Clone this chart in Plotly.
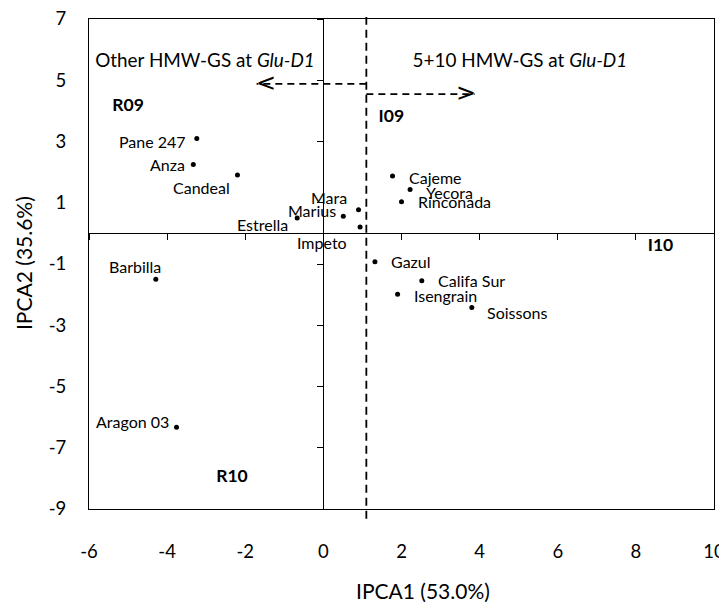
import plotly.graph_objects as go

# ---- data ----
genotypes = ["Pane 247", "Anza", "Candeal", "Estrella", "Marius", "Mara", "Impeto",
             "Cajeme", "Yecora", "Rinconada", "Gazul", "Califa Sur", "Isengrain",
             "Soissons", "Barbilla", "Aragon 03"]
ipca1 = [-3.24, -3.33, -2.20, -0.67, 0.51, 0.90, 0.94,
         1.77, 2.22, 2.00, 1.32, 2.52, 1.90,
         3.80, -4.29, -3.76]
ipca2 = [3.10, 2.25, 1.91, 0.50, 0.56, 0.77, 0.21,
         1.87, 1.43, 1.03, -0.93, -1.55, -1.99,
         -2.42, -1.50, -6.33]

environments = ["R09", "I09", "I10", "R10"]
env_x = [-5.0, 1.74, 8.63, -2.34]
env_y = [4.13, 3.77, -0.44, -7.96]

x_ticks = [-6, -4, -2, 0, 2, 4, 6, 8, 10]
x_tick_labels = ["-6", "-4", "-2", "0", "2", "4", "6", "8", "10"]
y_ticks = [7, 5, 3, 1, -1, -3, -5, -7, -9]
y_tick_labels = ["7", "5", "3", "1", "-1", "-3", "-5", "-7", "-9"]
x_range = [-6, 10]
y_range = [-9, 7]

split_x = 1.10                      # Glu-D1 split line
arrow_y = [4.88, 4.55]
arrow_tip = [-1.71, 3.88]
group_labels = ["Other HMW-GS at <i>Glu-D1</i>", "5+10 HMW-GS at <i>Glu-D1</i>"]
group_x = [-3.03, 5.03]
group_y = [5.6, 5.6]

# ---- label styling (anchor side and pixel offsets from each point) ----
label_anchor = ["right", "right", "right", "right", "right", "right", "right",
                "left", "left", "left", "left", "left", "left", "left",
                "right", "right"]
label_dx = [-9, -6, -5, -7, -5, -10, -11, 14, 14, 14, 14, 14, 14, 13, 7, -6]
label_dy = [-3, 0, -13, -6, 6, 12, -16, -1, -3, 0, 0, 0, -1, -5, 13, 6]

FONT = "Lato, Carlito, Calibri, sans-serif"
BLACK = "#000000"

fig = go.Figure()

# genotype points
fig.add_trace(go.Scatter(
    x=ipca1, y=ipca2, mode="markers", text=genotypes,
    marker=dict(size=5, color=BLACK),
    cliponaxis=False, showlegend=False, hoverinfo="text"))

for name, xv, yv, anc, dx, dy in zip(genotypes, ipca1, ipca2, label_anchor, label_dx, label_dy):
    fig.add_annotation(x=xv, y=yv, text=name, showarrow=False, xanchor=anc,
                       yanchor="middle", xshift=dx, yshift=dy,
                       font=dict(family=FONT, size=16, color=BLACK))

# environments (bold labels)
fig.add_trace(go.Scatter(
    x=env_x, y=env_y, mode="text", text=[f"<b>{e}</b>" for e in environments],
    textfont=dict(family=FONT, size=17.5, color=BLACK),
    showlegend=False, hoverinfo="skip"))

# group labels
fig.add_trace(go.Scatter(
    x=group_x, y=group_y, mode="text", text=group_labels,
    textfont=dict(family=FONT, size=18.9, color=BLACK),
    showlegend=False, hoverinfo="skip"))

# dashed arrows
for ay, tip, sym, anc, sh in zip(arrow_y, arrow_tip, ["&lt;", "&gt;"], ["left", "right"], [-3, 3]):
    fig.add_trace(go.Scatter(
        x=[split_x, tip], y=[ay, ay], mode="lines",
        line=dict(color=BLACK, width=1.8, dash="7px,5px"),
        showlegend=False, hoverinfo="skip"))
    fig.add_annotation(x=tip, y=ay, text=sym, showarrow=False,
                       xanchor=anc, xshift=sh, yshift=1,
                       font=dict(family="DejaVu Sans", size=24, color=BLACK))

# vertical dashed split line (extends slightly outside the frame)
fig.add_shape(type="line", xref="x", yref="paper", x0=split_x, x1=split_x,
              y0=-0.02, y1=1.004,
              line=dict(color=BLACK, width=1.8, dash="8px,5px"))

# invisible traces to activate the zero-line tick axes
fig.add_trace(go.Scatter(x=ipca1, y=ipca2, xaxis="x2", yaxis="y", mode="markers",
                         marker=dict(opacity=0), showlegend=False, hoverinfo="skip"))
fig.add_trace(go.Scatter(x=ipca1, y=ipca2, xaxis="x", yaxis="y2", mode="markers",
                         marker=dict(opacity=0), showlegend=False, hoverinfo="skip"))

tickfont = dict(family=FONT, size=18.5, color=BLACK)

# page body has an 8px default margin, so the figure is sized to fit inside it
fig.update_layout(
    width=719, height=594,
    margin=dict(l=81, r=13, t=11, b=93, autoexpand=False),
    plot_bgcolor="white", paper_bgcolor="white",
    xaxis=dict(range=x_range, tickvals=x_ticks, ticktext=x_tick_labels, ticks="",
               showgrid=False, zeroline=True, zerolinecolor=BLACK, zerolinewidth=1,
               showline=True, linecolor=BLACK, linewidth=1, mirror=True,
               tickfont=tickfont, ticklabelstandoff=26, automargin=False,
               ticklabeloverflow="allow"),
    yaxis=dict(range=y_range, tickvals=y_ticks, ticktext=y_tick_labels, ticks="",
               showgrid=False, zeroline=True, zerolinecolor=BLACK, zerolinewidth=1,
               showline=True, linecolor=BLACK, linewidth=1, mirror=True,
               tickfont=tickfont, ticklabelstandoff=18, automargin=False,
               ticklabeloverflow="allow"),
    xaxis2=dict(range=x_range, tickvals=x_ticks, overlaying="x", anchor="free",
                position=(0 - y_range[0]) / (y_range[1] - y_range[0]),
                side="bottom", ticks="outside", ticklen=6, tickwidth=1, tickcolor=BLACK,
                showticklabels=False, showline=False, showgrid=False, zeroline=False,
                automargin=False),
    yaxis2=dict(range=y_range, tickvals=y_ticks, overlaying="y", anchor="free",
                position=(0 - x_range[0]) / (x_range[1] - x_range[0]),
                side="left", ticks="outside", ticklen=6, tickwidth=1, tickcolor=BLACK,
                showticklabels=False, showline=False, showgrid=False, zeroline=False,
                automargin=False),
    font=dict(family=FONT, color=BLACK),
)

# axis titles
fig.add_annotation(xref="paper", yref="paper", x=0.534, y=-0.167, text="IPCA1 (53.0%)",
                   xanchor="center", yanchor="middle",
                   showarrow=False, font=dict(family=FONT, size=21, color=BLACK))
fig.add_annotation(xref="paper", yref="paper", x=-0.1056, y=0.502, text="IPCA2 (35.6%)",
                   xanchor="center", yanchor="middle",
                   textangle=-90, showarrow=False,
                   font=dict(family=FONT, size=21, color=BLACK))

fig.write_html("out.html")
